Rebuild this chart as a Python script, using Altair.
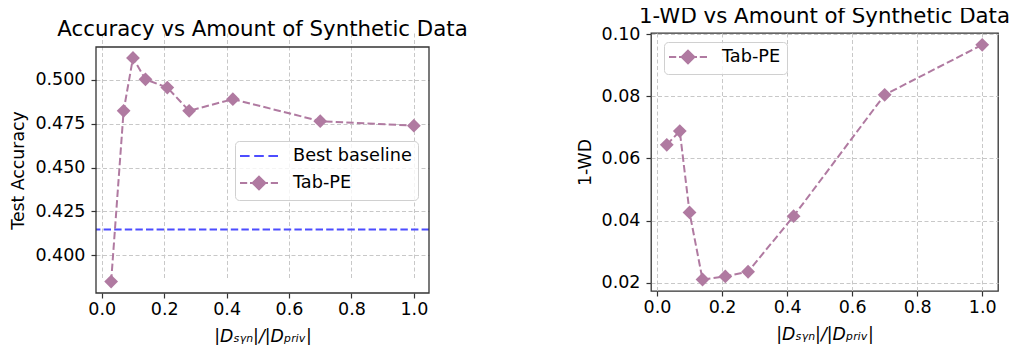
import altair as alt
import pandas as pd

# ---- data ----
ratio = [0.03, 0.07, 0.10, 0.14, 0.21, 0.28, 0.42, 0.70, 1.00]
accuracy = [0.3851, 0.4823, 0.5124, 0.5002, 0.4955, 0.4823, 0.4889, 0.4764, 0.4738]
one_wd = [0.0644, 0.0688, 0.0426, 0.0210, 0.0220, 0.0235, 0.0414, 0.0805, 0.0966]
baseline_acc = [0.4147]
series_names = ["Best baseline", "Tab-PE"]
x_ticks = [0.0, 0.2, 0.4, 0.6, 0.8, 1.0]
acc_ticks = [0.400, 0.425, 0.450, 0.475, 0.500]
wd_ticks = [0.02, 0.04, 0.06, 0.08, 0.10]

PURPLE = "#b07aa1"
BLUE = "#4d4dff"
FRAME = "#333333"
FONT = "DejaVu Sans"
XTITLE = "|D\u209B\u1D67\u2099|/|D\u209A\u1D63\u1D62\u1D65|"

# legend glyphs (custom SVG paths)
BASE_PATH = "M-1.25,0H-0.05M0.525,0H1.725M2.3,0H3.5"
TAB_PATH = ("M-1.25,0H-0.35M0.0,0H2.25M2.6,0H3.5"
            "M1.125,-0.8L1.925,0L1.125,0.8L0.325,0Z")

x_dom = [-0.0185, 1.0485]
acc_dom = [0.3786, 0.5186]
wd_dom = [0.0173, 0.1004]

LEFT_H = 246
LEFT_SHIFT = 14   # left panel sits lower than the right one

df_acc = pd.DataFrame({"ratio": ratio, "value": accuracy})
df_wd = pd.DataFrame({"ratio": ratio, "value": one_wd})
df_base = pd.DataFrame({"value": baseline_acc})


def x_enc():
    return alt.X("ratio:Q",
                 scale=alt.Scale(domain=x_dom, nice=False, zero=False),
                 axis=alt.Axis(values=x_ticks, format=".1f", title=XTITLE,
                               titleFontStyle="italic"))


def legend_layer(names, lx, ly):
    dfl = pd.DataFrame({"series": names, "ratio": [None] * len(names),
                        "value": [None] * len(names)})
    paths = {"Best baseline": BASE_PATH, "Tab-PE": TAB_PATH}
    cols = {"Best baseline": BLUE, "Tab-PE": PURPLE}
    leg = alt.Legend(title=None, orient="none", legendX=lx, legendY=ly)
    return alt.Chart(dfl).mark_point(size=256, strokeWidth=2, opacity=1).encode(
        x="ratio:Q", y="value:Q",
        shape=alt.Shape("series:N", scale=alt.Scale(domain=names, range=[paths[n] for n in names]), legend=leg),
        fill=alt.Fill("series:N", scale=alt.Scale(domain=names, range=[cols[n] for n in names]), legend=leg),
        stroke=alt.Stroke("series:N", scale=alt.Scale(domain=names, range=[cols[n] for n in names]), legend=leg),
    )


def y_enc(ydom, yticks, yfmt, ytitle, rng=None):
    sc = alt.Scale(domain=ydom, nice=False, zero=False)
    if rng is not None:
        sc = alt.Scale(domain=ydom, nice=False, zero=False, range=rng)
    return alt.Y("value:Q", scale=sc,
                 axis=alt.Axis(values=yticks, format=yfmt, title=ytitle))


def series_layers(df, y):
    line = alt.Chart(df).mark_line(color=PURPLE, strokeWidth=2, strokeDash=[7.4, 3.2]).encode(x=x_enc(), y=y)
    pts = alt.Chart(df).mark_point(shape="diamond", filled=True, size=190, color=PURPLE, opacity=1).encode(x=x_enc(), y=y)
    return line, pts


# left panel (view is taller; the y range starts LEFT_SHIFT px down; frame drawn as a rect)
y_l = y_enc(acc_dom, acc_ticks, ".3f", "Test Accuracy", rng=[LEFT_H + LEFT_SHIFT, LEFT_SHIFT])
frame_df = pd.DataFrame({"ratio": [x_dom[0]], "ratio2": [x_dom[1]],
                         "value": [acc_dom[0]], "value2": [acc_dom[1]]})
frame_l = alt.Chart(frame_df).mark_rect(fillOpacity=0, stroke=FRAME, strokeWidth=1.3).encode(
    x=x_enc(), x2="ratio2:Q", y=y_l, y2="value2:Q")
line_l, pts_l = series_layers(df_acc, y_l)
base_rule = alt.Chart(df_base).mark_rule(color=BLUE, strokeWidth=2, strokeDash=[7.4, 3.2]).encode(y=y_l)
left = alt.layer(base_rule, line_l, pts_l, frame_l,
                 legend_layer(series_names, 139, 94 + LEFT_SHIFT)).properties(
    width=333, height=LEFT_H + LEFT_SHIFT,
    view=alt.ViewBackground(stroke=None),
    title=alt.TitleParams("Accuracy vs Amount of Synthetic Data", dy=5,
                          fontSize=21.3, font=FONT, fontWeight="normal", frame="group",
                          anchor="middle", offset=-2),
)

# right panel
y_r = y_enc(wd_dom, wd_ticks, ".2f", "1-WD")
line_r, pts_r = series_layers(df_wd, y_r)
right = alt.layer(line_r, pts_r, legend_layer(["Tab-PE"], 13, 9)).properties(
    width=347, height=258,
    view=alt.ViewBackground(stroke=FRAME, strokeWidth=1.3),
    title=alt.TitleParams("1-WD vs Amount of Synthetic Data",
                          fontSize=21.3, font=FONT, fontWeight="normal", frame="group",
                          anchor="middle", offset=-2),
)

chart = alt.concat(left, right, columns=2, spacing=107).resolve_scale(
    shape="independent", fill="independent", stroke="independent"
).properties(
    padding={"left": 1, "top": -3, "right": 0, "bottom": 0},
).configure_axis(
    labelFont=FONT, labelFontSize=17.5, labelColor="#000000",
    titleFont=FONT, titleFontSize=17.3, titleFontWeight="normal", titleColor="#000000",
    tickColor=FRAME, tickSize=5, tickWidth=1.2, domain=False,
    grid=True, gridColor="#c8c8c8", gridDash=[4, 2.5], gridWidth=1,
    labelPadding=5,
).configure_axisY(
    titlePadding=7, labelPadding=6,
).configure_axisX(
    titlePadding=10, labelPadding=2,
).configure_legend(
    fillColor="rgba(255,255,255,0.8)", strokeColor="#d0d0d0", cornerRadius=4,
    padding=6, labelFont=FONT, labelFontSize=17.7, labelColor="#000000",
    labelOffset=34, rowPadding=7, symbolStrokeWidth=2, symbolSize=256,
)

chart.save("out.html", embed_options={"renderer": "svg", "actions": False})
